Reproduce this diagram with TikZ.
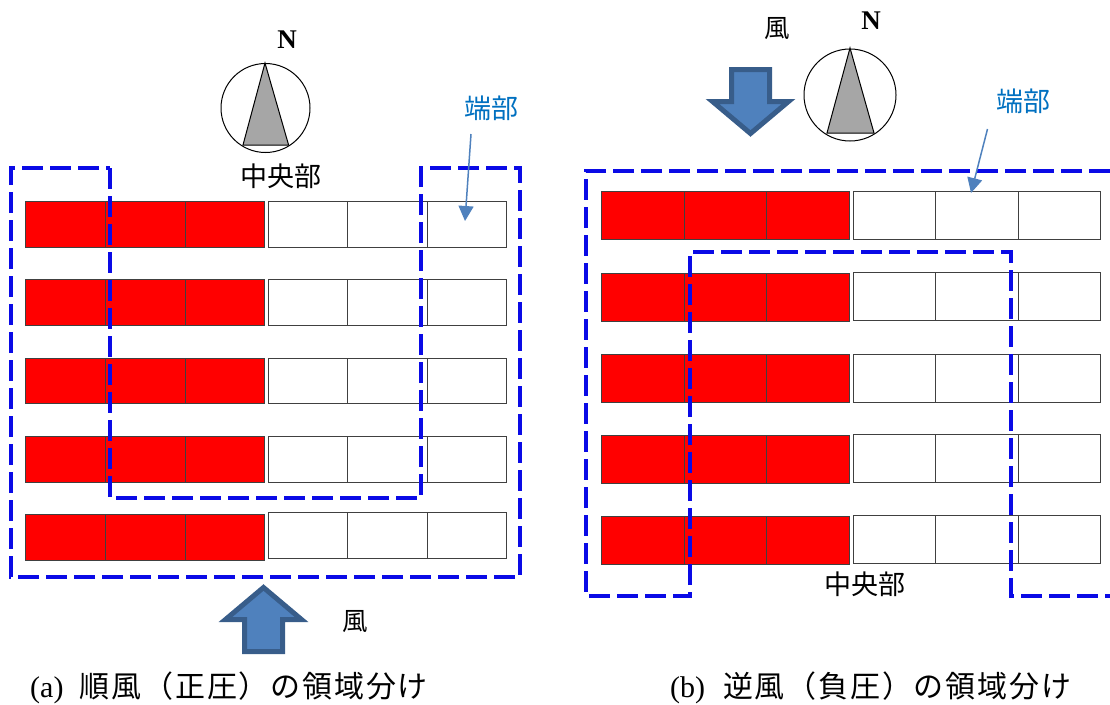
\documentclass[tikz,border=0pt]{standalone}
\usepackage{fontspec}
\setmainfont{Liberation Serif}
\newfontfamily\cjk{Noto Sans CJK JP}
\newfontfamily\cjkcap[LetterSpace=6]{Noto Sans CJK JP}
\usetikzlibrary{arrows.meta}
\definecolor{zoneblue}{HTML}{0A0AE6}
\definecolor{tagblue}{HTML}{0070C0}
\definecolor{windfill}{HTML}{4F81BD}
\definecolor{windedge}{HTML}{385D8A}
\definecolor{needle}{HTML}{A6A6A6}
\tikzset{
  cellbase/.style={draw=black!75,line width=1pt,inner sep=0pt,outer sep=0pt,anchor=north west,minimum height=#1},
  zone/.style={draw=zoneblue,line width=3.4pt,dash pattern=on 21pt off 7pt,line join=miter},
  windarrow/.style={fill=windfill,draw=windedge,line width=5pt,line join=miter,miter limit=10},
  tagarrow/.style={draw=windfill,line width=1.5pt,-{Triangle[length=15pt,width=15pt]}},
  jp/.style={inner sep=0pt,font=\cjk\fontsize{25.5}{28}\selectfont},
  jpbig/.style={inner sep=0pt,font=\cjk\fontsize{27}{30}\selectfont},
  tagtext/.style={jpbig,text=tagblue},
  captext/.style={inner sep=0pt,anchor=base west,font=\fontsize{30}{32}\selectfont},
  compassN/.style={inner sep=0pt,font=\bfseries\fontsize{27}{30}\selectfont},
  dial/.style={draw=black,line width=1pt,circle,minimum size=#1,inner sep=0pt},
  needleshape/.style={fill=needle,draw=black,line width=1pt},
}
\newcommand{\cellrun}[5]{% prefix, y, height, first x, width ; three cells
  \node[cellbase=#3,minimum width=#5] (#1a) at (#4,#2) {};
  \node[cellbase=#3,minimum width=#5] (#1b) at (#1a.north east) {};
  \node[cellbase=#3,minimum width=#5] (#1c) at (#1b.north east) {};
}
\begin{document}
\begin{tikzpicture}[x=1pt,y=-1pt]
\useasboundingbox (0,0) rectangle (1110,704);
% left panel cells
\foreach \n/\yr/\yw/\h in {1/201/201/46,2/279/279/46,3/358/358/45,4/436/436/46,5/514/512/46}{
  \begin{scope}[every node/.append style={fill=red,draw=black}]
    \cellrun{lr\n}{\yr}{\h pt}{25.5}{79.8pt}
  \end{scope}
  \begin{scope}[every node/.append style={fill=white}]
    \cellrun{lw\n}{\yw}{\h pt}{268}{79.5pt}
  \end{scope}
}
% right panel cells
\foreach \n/\yr/\yw/\h in {1/191/191/48,2/273/272/48,3/354/354/48,4/435/434/48,5/516/515/48}{
  \begin{scope}[every node/.append style={fill=red,draw=black}]
    \cellrun{rr\n}{\yr}{\h pt}{601.5}{82.7pt}
  \end{scope}
  \begin{scope}[every node/.append style={fill=white}]
    \cellrun{rw\n}{\yw}{\h pt}{853}{82.6pt}
  \end{scope}
}
% zones
\draw[zone] (110,168) -- (110,498) -- (421,498) -- (421,168) -- (520,168) -- (520,577) -- (11,577) -- (11,168) -- cycle;
\draw[zone] (1110,171) -- (586,171) -- (586,596) -- (690,596) -- (690,252) -- (1011,252) -- (1011,596) -- (1110,596);
% compasses
\node[compassN] (nl) at (287,40) {N};
\node[dial=89pt] (cl) at (265.5,108) {};
\draw[needleshape] (265,63) -- (243,145) -- (288.6,145) -- cycle;
\node[compassN] (nr) at (871,21) {N};
\node[dial=92pt] (cr) at (850,95) {};
\draw[needleshape] (850,48) -- (827,133) -- (874,133) -- cycle;
% wind arrows
\draw[windarrow] (263.5,587.5) -- (301.5,619.5) -- (282.5,619.5) -- (282.5,651.5) -- (244.5,651.5) -- (244.5,619.5) -- (225.5,619.5) -- cycle;
\draw[windarrow] (750.5,133.5) -- (788.5,101.5) -- (769.5,101.5) -- (769.5,69.5) -- (731.5,69.5) -- (731.5,101.5) -- (712.5,101.5) -- cycle;
% labels
\node[jp] (wl) at (355,622) {風};
\node[jp] (wr) at (777,29) {風};
\node[jpbig] (cenl) at (281,176) {中央部};
\node[jpbig] (cenr) at (865,584) {中央部};
\node[tagtext] (tl) at (491,108) {端部};
\node[tagtext] (tr) at (1023,101) {端部};
\coordinate (tls) at (471,134);
\coordinate (tle) at (465,221);
\coordinate (trs) at (987.5,129);
\coordinate (tre) at (971,193);
\draw[tagarrow] (tls) -- (tle);
\draw[tagarrow] (trs) -- (tre);
\node[captext] (capa) at (30,697) {(a)\hspace{16.5pt}{\cjkcap\fontsize{30}{32}\selectfont 順風（正圧）の領域分け}};
\node[captext] (capb) at (670,697) {(b)\hspace{18pt}{\cjkcap\fontsize{30}{32}\selectfont 逆風（負圧）の領域分け}};
\end{tikzpicture}
\end{document}
